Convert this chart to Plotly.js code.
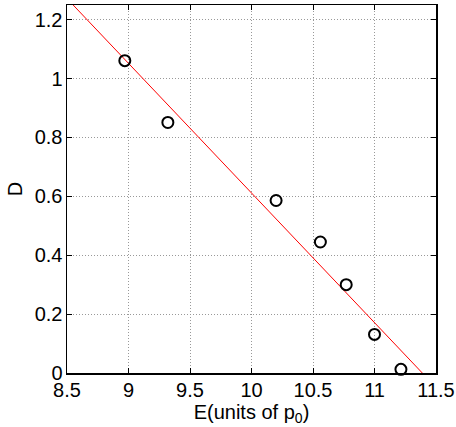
<!DOCTYPE html>
<html>
<head>
<meta charset="utf-8">
<script src="https://cdn.plot.ly/plotly-3.0.1.min.js"></script>
<style>body{margin:0;padding:0;background:#fff;}#chart{width:456px;height:427px;}</style>
</head>
<body>
<div id="chart"></div>
<script>
// measured points
const energyX = [8.97, 9.32, 10.20, 10.56, 10.77, 11.00, 11.215];
const valueD = [1.061, 0.851, 0.586, 0.445, 0.300, 0.131, 0.0125];
// linear fit line (values at axis ends)
const fitX = [8.5, 11.5];
const fitY = [1.272, -0.049];
const xTicks = [8.5, 9, 9.5, 10, 10.5, 11, 11.5];
const yTicks = [0, 0.2, 0.4, 0.6, 0.8, 1, 1.2];

const font = {family: 'Liberation Sans, Arial, sans-serif', size: 20, color: '#000'};

const traces = [
  {x: fitX, y: fitY, mode: 'lines', line: {color: '#ff0000', width: 1}, hoverinfo: 'skip', showlegend: false},
  {x: energyX, y: valueD, mode: 'markers', cliponaxis: false,
   marker: {symbol: 'circle-open', size: 11, color: '#000', line: {width: 2, color: '#000'}}, showlegend: false}
];

const axisCommon = {
  showline: true, linecolor: '#000', linewidth: 1.5, mirror: 'ticks',
  ticks: 'inside', ticklen: 5, tickcolor: '#000', tickwidth: 1,
  showgrid: true, gridcolor: '#999', griddash: '1px,2px', gridwidth: 1,
  zeroline: false, tickfont: font
};

const layout = {
  width: 456, height: 427,
  margin: {l: 67, r: 20, t: 5, b: 54},
  paper_bgcolor: '#fff', plot_bgcolor: '#fff',
  showlegend: false,
  xaxis: Object.assign({}, axisCommon, {
    range: [8.5, 11.5], tickvals: xTicks, ticktext: xTicks.map(String),
    ticklabelstandoff: -2,
    title: {text: 'E(units of p<sub>0</sub>)', font: font, standoff: 0}
  }),
  yaxis: Object.assign({}, axisCommon, {
    range: [0, 1.25], tickvals: yTicks, ticktext: yTicks.map(String),
    ticklabelstandoff: -1,
    title: {text: 'D', font: font, standoff: 6}
  })
};

Plotly.newPlot('chart', traces, layout, {displayModeBar: false, staticPlot: true});
</script>
</body>
</html>
